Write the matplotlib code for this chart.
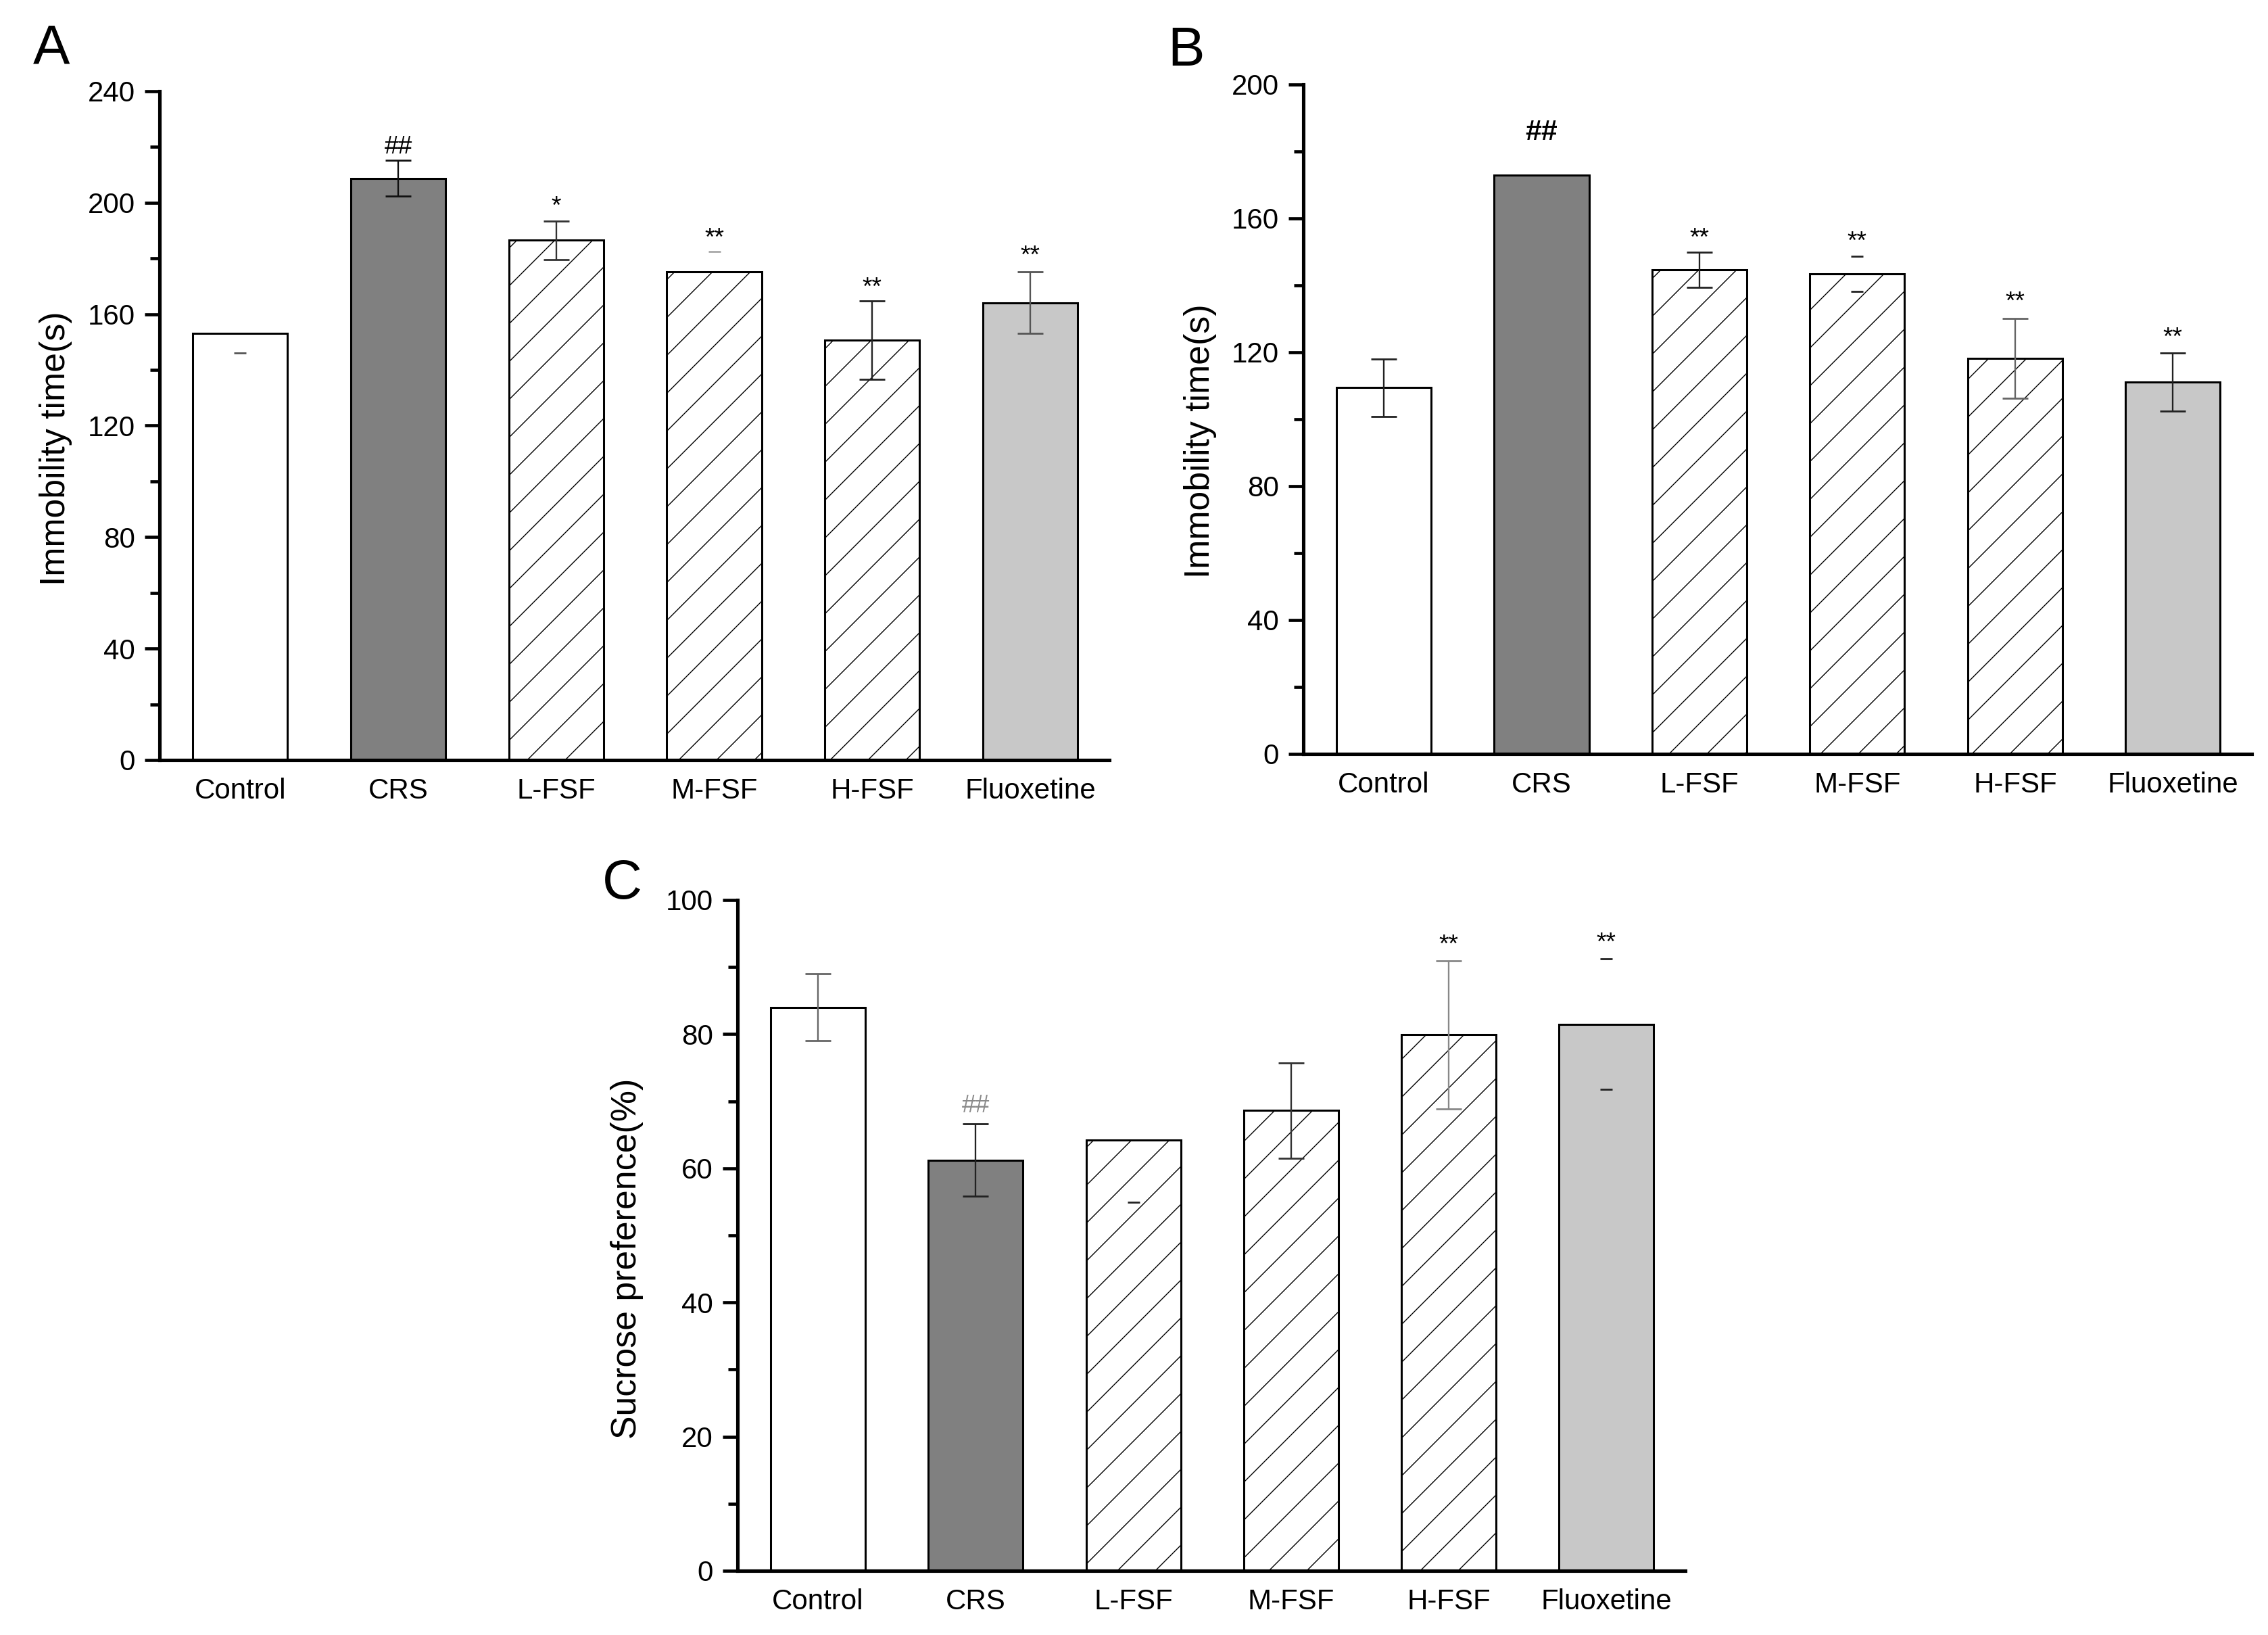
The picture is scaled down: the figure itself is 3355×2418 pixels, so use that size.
import numpy as np
import matplotlib
matplotlib.use("Agg")
import matplotlib.pyplot as plt
from matplotlib.ticker import MultipleLocator

plt.rcParams['font.family'] = ['Liberation Sans', 'DejaVu Sans']
plt.rcParams['hatch.linewidth'] = 0.3
plt.rcParams['hatch.color'] = '#1a1a1a'

groups = ['Control', 'CRS', 'L-FSF', 'M-FSF', 'H-FSF', 'Fluoxetine']
fills = ['white', '#808080', 'white', 'white', 'white', '#c8c8c8']
hatches = ['', '', '//', '//', '//', '']

# panel A: immobility time (s)
a_vals = [153.2, 208.8, 186.5, 175.3, 150.7, 164.1]
a_err = [7.2, 6.4, 7.0, 7.2, 14.0, 11.0]
a_errkind = ['low', 'full', 'full', 'high', 'full', 'full']
a_ecol = ['#555555', '#111111', '#333333', '#aaaaaa', '#222222', '#555555']
a_marks = ['', '##', '*', '**', '**', '**']
a_mark_y = [0, 221.0, 201.4, 190.0, 172.2, 183.7]

# panel B: immobility time (s)
b_vals = [109.4, 172.9, 144.7, 143.4, 118.2, 111.1]
b_err = [8.5, 0.0, 5.3, 5.2, 12.0, 8.6]
b_errkind = ['full', 'none', 'full', 'caps', 'full', 'full']
b_ecol = ['#222222', '#222222', '#222222', '#222222', '#666666', '#222222']
b_marks = ['', '##', '**', '**', '**', '**']
b_mark_y = [0, 186.5, 156.4, 155.2, 137.4, 126.6]

# panel C: sucrose preference (%)
c_vals = [84.0, 61.2, 64.2, 68.6, 79.9, 81.5]
c_err = [5.0, 5.4, 9.3, 7.1, 11.0, 9.7]
c_errkind = ['full', 'full', 'low', 'full', 'full', 'caps']
c_ecol = ['#666666', '#222222', '#222222', '#333333', '#888888', '#222222']
c_marks = ['', '##', '', '', '**', '**']
c_mark_y = [0, 69.7, 0, 0, 94.4, 94.7]

W, H = 3355, 2418
DPI = 336
fig = plt.figure(figsize=(W / DPI, H / DPI), dpi=DPI)


def panel(rect, vals, err, errkind, ecol, marks, mark_y, ymax, major, minor,
          ylabel, label_xy, hash_style):
    ax = fig.add_axes(rect)
    x = np.arange(len(groups))
    ax.bar(x, vals, width=0.6, color=fills, hatch=hatches,
           edgecolor='black', linewidth=0.65, zorder=2)
    for i in range(len(x)):
        v, e, k, c = vals[i], err[i], errkind[i], ecol[i]
        if k == 'full':
            ax.errorbar(x[i], v, yerr=e, fmt='none', ecolor=c, elinewidth=0.5,
                        capsize=4, capthick=0.6, zorder=3)
        elif k == 'caps':
            ax.plot([x[i], x[i]], [v - e, v + e], linestyle='none', marker='_',
                    markersize=4, markeredgewidth=0.6, color=c, zorder=3)
        elif k in ('low', 'high'):
            yy = v - e if k == 'low' else v + e
            ax.plot([x[i]], [yy], linestyle='none', marker='_',
                    markersize=4, markeredgewidth=0.6, color=c, zorder=3)
        if marks[i]:
            if marks[i].startswith('#'):
                fs, fw, col = hash_style
                off = -0.36 * fs
            else:
                fs, fw, col = 8, 'normal', 'black'
                off = -0.58 * fs
            ax.annotate(marks[i], (x[i], mark_y[i]), xytext=(0, off),
                        textcoords='offset points', ha='center', va='baseline',
                        fontsize=fs, fontweight=fw, color=col, zorder=4)
    ax.set_xlim(-0.51, 5.5)
    ax.set_ylim(0, ymax)
    ax.set_xticks(x)
    ax.set_xticklabels(groups, fontsize=9)
    ax.yaxis.set_major_locator(MultipleLocator(major))
    ax.yaxis.set_minor_locator(MultipleLocator(minor))
    ax.tick_params(axis='x', length=0, pad=5.5)
    ax.tick_params(axis='y', which='major', length=4.8, width=1.0,
                   labelsize=9, pad=3)
    ax.tick_params(axis='y', which='minor', length=2.9, width=1.0)
    for s in ['top', 'right']:
        ax.spines[s].set_visible(False)
    for s in ['left', 'bottom']:
        ax.spines[s].set_linewidth(1.1)
    ax.set_ylabel(ylabel, fontsize=11.1)
    ax.yaxis.set_label_coords(*label_xy)
    return ax


def frac(l, t, r, b):
    return [l / W, 1 - b / H, (r - l) / W, (b - t) / H]


panel(frac(236, 135, 1641, 1124), a_vals, a_err, a_errkind, a_ecol, a_marks,
      a_mark_y, 240, 40, 20, 'Immobility time(s)', (-0.092, 0.466),
      (8, 'normal', 'black'))
panel(frac(1928, 125, 3331, 1115), b_vals, b_err, b_errkind, b_ecol, b_marks,
      b_mark_y, 200, 40, 20, 'Immobility time(s)', (-0.091, 0.467),
      (9.2, 'bold', 'black'))
panel(frac(1091, 1331, 2493, 2323), c_vals, c_err, c_errkind, c_ecol, c_marks,
      c_mark_y, 100, 20, 10, 'Sucrose preference(%)', (-0.099, 0.465),
      (8, 'normal', '#8a8a8a'))

for letter, px, py in [('A', 76, 72), ('B', 1755, 76), ('C', 920, 1308)]:
    fig.text(px / W, 1 - py / H, letter, fontsize=17.5, ha='center', va='center')

fig.savefig('out.png', dpi=DPI)
